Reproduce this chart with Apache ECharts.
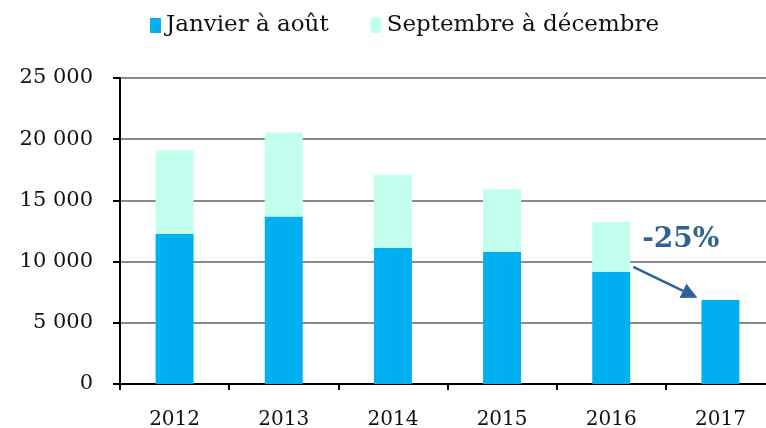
<!DOCTYPE html>
<html>
<head>
<meta charset="utf-8">
<script src="https://cdn.jsdelivr.net/npm/echarts@6/dist/echarts.min.js"></script>
<style>
  html, body { margin: 0; padding: 0; background: #fff; }
  #chart { width: 766px; height: 428px; }
</style>
</head>
<body>
<div id="chart"></div>
<script>
  // données
  var years = ['2012', '2013', '2014', '2015', '2016', '2017'];
  var janAout = [12250, 13690, 11110, 10790, 9180, 6870];
  var sepDec = [6820, 6850, 5980, 5130, 4050, '-'];
  var yTicks = [0, 5000, 10000, 15000, 20000, 25000];
  var variation = '-25%';

  var font = 'DejaVu Serif';
  var chart = echarts.init(document.getElementById('chart'));

  function fmt(v) {
    return String(v).replace(/\B(?=(\d{3})+(?!\d))/g, ' ');
  }

  chart.setOption({
    animation: false,
    legend: {
      top: 9,
      left: 145,
      itemWidth: 11,
      itemHeight: 15,
      itemGap: 42,
      icon: 'rect',
      textStyle: { fontFamily: font, fontSize: 23, color: '#111' },
      data: ['Janvier à août', 'Septembre à décembre']
    },
    // la zone du graphique déborde à droite comme dans l'original
    grid: { left: 120, width: 655, top: 78, bottom: 44, outerBoundsMode: 'none' },
    xAxis: {
      type: 'category',
      data: years,
      axisLine: { lineStyle: { color: '#000', width: 2 } },
      axisTick: { show: true, length: 6, lineStyle: { color: '#000', width: 2 } },
      axisLabel: { fontFamily: font, fontSize: 20, color: '#111', margin: 26 }
    },
    yAxis: {
      type: 'value',
      min: yTicks[0],
      max: yTicks[yTicks.length - 1],
      interval: 5000,
      axisLine: { show: true, lineStyle: { color: '#000', width: 2 } },
      axisTick: { show: true, length: 7, lineStyle: { color: '#000', width: 2 } },
      splitLine: { lineStyle: { color: '#8a8a8a', width: 2 } },
      axisLabel: { fontFamily: font, fontSize: 21, color: '#111', margin: 27, formatter: fmt }
    },
    series: [
      {
        name: 'Janvier à août',
        type: 'bar',
        stack: 'total',
        barWidth: 38,
        itemStyle: { color: '#00B0F0' },
        data: janAout
      },
      {
        name: 'Septembre à décembre',
        type: 'bar',
        stack: 'total',
        barWidth: 38,
        itemStyle: { color: '#C3FFEF' },
        data: sepDec
      }
    ]
  });

  // flèche et annotation -25% entre 2016 et 2017
  var p16 = chart.convertToPixel({ seriesIndex: 0 }, [4, janAout[4] + 380]);
  var p17 = chart.convertToPixel({ seriesIndex: 0 }, [5, janAout[5] + 170]);
  var x1 = p16[0] + 22, y1 = p16[1];
  var x2 = p17[0] - 23, y2 = p17[1];
  var ang = Math.atan2(y2 - y1, x2 - x1);
  var hl = 16, hw = 8;
  var bx = x2 - hl * Math.cos(ang), by = y2 - hl * Math.sin(ang);
  var nx = -Math.sin(ang), ny = Math.cos(ang);
  var ty = chart.convertToPixel({ seriesIndex: 0 }, [4, 11750])[1];
  var tx = (p16[0] + p17[0]) / 2 + 15;

  chart.setOption({
    graphic: [
      {
        type: 'line',
        shape: { x1: x1, y1: y1, x2: bx, y2: by },
        style: { stroke: '#2F6295', lineWidth: 2.5 }
      },
      {
        type: 'polygon',
        shape: { points: [[x2, y2], [bx + nx * hw, by + ny * hw], [bx - nx * hw, by - ny * hw]] },
        style: { fill: '#2F6295' }
      },
      {
        type: 'text',
        x: tx,
        y: ty,
        style: {
          text: variation,
          fontFamily: font,
          fontWeight: 'bold',
          fontSize: 28,
          fill: '#2F6295',
          align: 'center',
          verticalAlign: 'middle'
        }
      }
    ]
  });
</script>
</body>
</html>
